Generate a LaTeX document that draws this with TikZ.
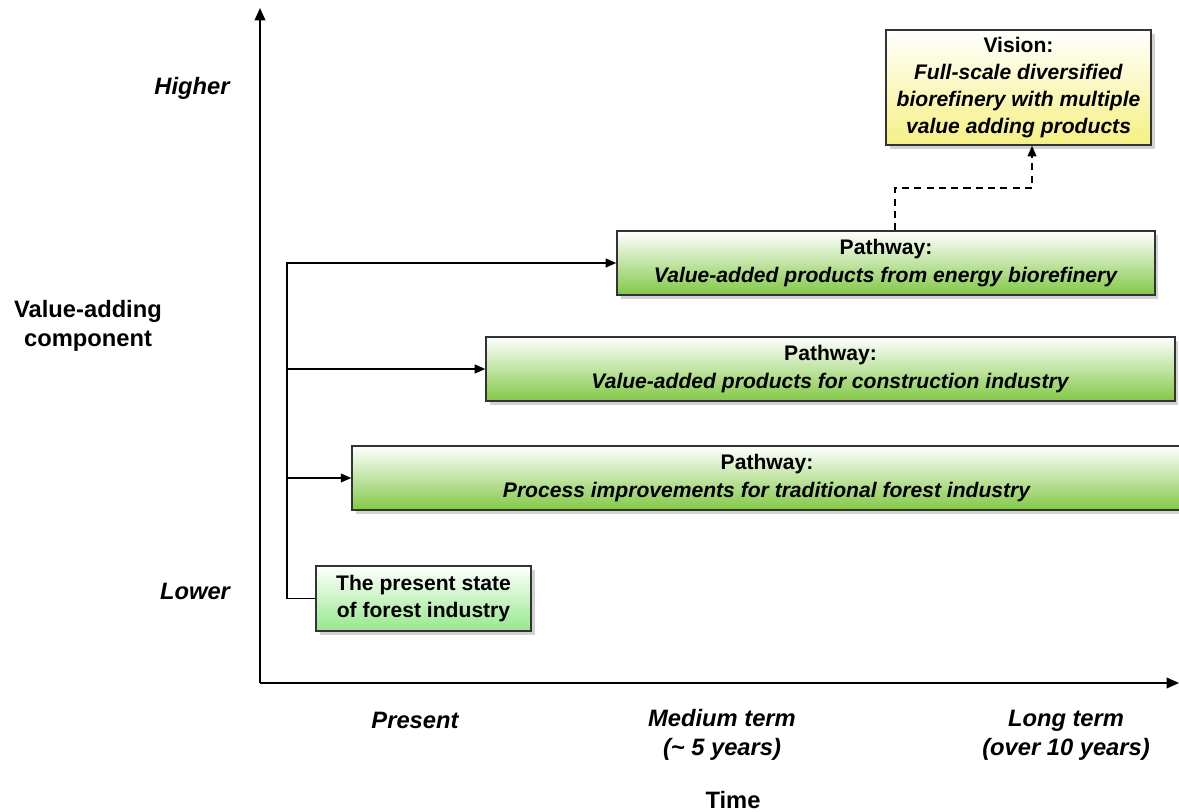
\documentclass[tikz,border=0pt]{standalone}
\usepackage{fontspec}
\setmainfont{Liberation Sans}
\usetikzlibrary{positioning}
\usetikzlibrary{arrows.meta}
\usetikzlibrary{shadows}
\definecolor{pathgreen}{RGB}{130,200,70}
\definecolor{nowgreen}{RGB}{150,232,140}
\definecolor{visionyellow}{RGB}{245,240,130}

\begin{document}
\begin{tikzpicture}[x=0.02cm,y=-0.02cm,
 box/.style={draw=black!80,line width=0.9pt,align=center,font=\fontsize{12}{15.5}\selectfont\bfseries,
  shading=axis,top color=white,bottom color=pathgreen,
  drop shadow={shadow xshift=2pt,shadow yshift=-2pt,opacity=0.35},inner sep=2pt},
 axlabel/.style={font=\fontsize{13.5}{16.5}\selectfont\bfseries\itshape,align=center},
 axname/.style={font=\fontsize{13.5}{16.5}\selectfont\bfseries,align=center},
 axis/.style={line width=1.1pt,-{Triangle[length=7pt,width=6pt]}},
 link/.style={line width=0.9pt,-{Triangle[length=6pt,width=5pt]}}]
 \fill[white] (0,0) rectangle (1179,811);
 \useasboundingbox (0,0) rectangle (1179,811);

 \coordinate (origin) at (260,683);
 \coordinate (ytop) at (260,8);
 \coordinate (xend) at (1179,683);
 \draw[axis] (origin) -- (ytop);
 \draw[axis] (origin) -- (xend);

 \node[box,bottom color=visionyellow,minimum width=5.3cm,minimum height=2.3cm] (vision) at (1018.5,87.5)
  {Vision:\\\textit{Full-scale diversified}\\\textit{biorefinery with multiple}\\\textit{value adding products}};
 \node[box,minimum width=10.76cm,minimum height=1.28cm] (energy) at (886,263)
  {Pathway:\\\textit{Value-added\ products\ from\ energy\ biorefinery}};
 \node[box,minimum width=13.78cm,minimum height=1.28cm] (construction) at (830.5,369)
  {Pathway:\\\textit{Value-added\ products\ for\ construction\ industry}};
 \node[box,minimum width=16.6cm,minimum height=1.28cm] (process) at (767,478)
  {Pathway:\\\textit{Process\ improvements\ for\ traditional\ forest\ industry}};
 \node[box,bottom color=nowgreen,minimum width=4.3cm,minimum height=1.3cm] (present) at (423.5,598.5)
  {The present state\\of forest industry};

 \coordinate (trunk) at (287,263);
 \draw[link] (present.west) -| (trunk) -- (energy.west);
 \draw[link] (trunk |- construction.west) -- (construction.west);
 \draw[link] (trunk |- process.west) -- (process.west);

 \coordinate (bend) at (1032,188);
 \draw[link,dash pattern=on 4pt off 3pt] ([xshift=0.18cm]energy.north) |- (bend) -- (vision.south -| bend);

 \node[axlabel] (higher) at (192,88) {Higher};
 \node[axlabel] (lower) at (195,591) {Lower};
 \node[axname] (vaxis) at (88,326) {Value-adding\\component};
 \node[axlabel] (now) at (415,720) {Present};
 \node[axlabel] (medium) at (722,735) {Medium term\\(\textasciitilde{} 5 years)};
 \node[axlabel] (long) at (1066,735) {Long term\\(over 10 years)};
 \node[axname] (time) at (733,800) {Time};
\end{tikzpicture}
\end{document}
